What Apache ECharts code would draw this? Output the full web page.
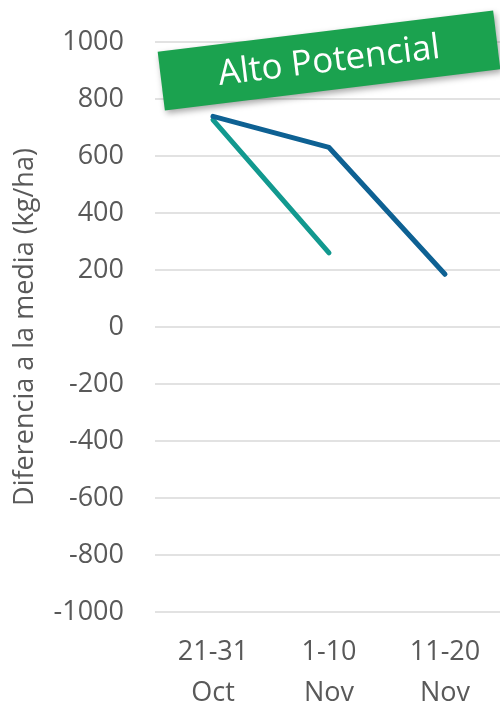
<!DOCTYPE html>
<html>
<head>
<meta charset="utf-8">
<script src="https://cdn.jsdelivr.net/npm/echarts@6/dist/echarts.min.js"></script>
<style>html,body{margin:0;padding:0;background:#fff;}#c{width:500px;height:704px;}</style>
</head>
<body>
<div id="c"></div>
<script>
const categories = ['21-31\nOct', '1-10\nNov', '11-20\nNov'];
const serieTeal = [727, 260, null];
const serieBlue = [739, 630, 185];
const yTicks = { min: -1000, max: 1000, interval: 200 };
const axisTitle = 'Diferencia a la media (kg/ha)';
const bannerText = 'Alto Potencial';

const FONT = 'Open Sans';
const chart = echarts.init(document.getElementById('c'), null, { renderer: 'canvas' });
chart.setOption({
  animation: false,
  backgroundColor: '#fff',
  grid: { left: 155, right: -3, top: 42, bottom: 92, containLabel: false, outerBoundsMode: 'none' },
  xAxis: {
    type: 'category',
    data: categories,
    boundaryGap: true,
    axisLine: { show: false },
    axisTick: { show: false },
    axisLabel: { color: '#595959', fontFamily: FONT, fontSize: 27, lineHeight: 41, margin: 20, interval: 0 }
  },
  yAxis: {
    type: 'value',
    min: yTicks.min, max: yTicks.max, interval: yTicks.interval,
    name: axisTitle,
    nameLocation: 'middle',
    nameRotate: 90,
    nameGap: 116,
    nameTextStyle: { color: '#595959', fontFamily: FONT, fontSize: 27 },
    axisLine: { show: false },
    axisTick: { show: false },
    axisLabel: { color: '#595959', fontFamily: FONT, fontSize: 27, margin: 31, formatter: v => String(v) },
    splitLine: { lineStyle: { color: '#d9d9d9', width: 1.5 } }
  },
  series: [
    { type: 'line', data: serieTeal, symbol: 'none', lineStyle: { color: '#12998f', width: 5, cap: 'round', join: 'round' }, itemStyle: { color: '#12998f' }, z: 2 },
    { type: 'line', data: serieBlue, symbol: 'none', lineStyle: { color: '#0e6193', width: 5, cap: 'round', join: 'round' }, itemStyle: { color: '#0e6193' }, z: 3 }
  ],
  graphic: {
    elements: [{
      type: 'group',
      x: 329, y: 60.5,
      rotation: 7 * Math.PI / 180,
      children: [
        { type: 'rect', z: 100, shape: { x: -169, y: -29.5, width: 338, height: 59 },
          style: { fill: '#1ba24f', shadowBlur: 6, shadowOffsetX: 2, shadowOffsetY: 3, shadowColor: 'rgba(0,0,0,0.35)' } },
        { type: 'text', z: 101, x: 0, y: 1,
          style: { text: bannerText, fill: '#fff', font: '35px "Open Sans"', align: 'center', verticalAlign: 'middle' } }
      ]
    }]
  }
});
</script>
</body>
</html>
